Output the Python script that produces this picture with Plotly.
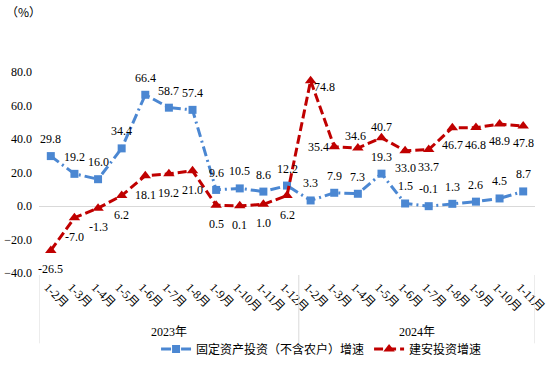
import plotly.graph_objects as go

months_2023 = ["1-2月", "1-3月", "1-4月", "1-5月", "1-6月", "1-7月", "1-8月", "1-9月", "1-10月", "1-11月", "1-12月"]
months_2024 = ["1-2月", "1-3月", "1-4月", "1-5月", "1-6月", "1-7月", "1-8月", "1-9月", "1-10月", "1-11月"]
years = ["2023年", "2024年"]

fixed_invest = [29.8, 19.2, 16.0, 34.4, 66.4, 58.7, 57.4, 9.6, 10.5, 8.6, 12.2,
                3.3, 7.9, 7.3, 19.3, 1.5, -0.1, 1.3, 2.6, 4.5, 8.7]
construct_invest = [-26.5, -7.0, -1.3, 6.2, 18.1, 19.2, 21.0, 0.5, 0.1, 1.0, 6.2,
                    74.8, 35.4, 34.6, 40.7, 33.0, 33.7, 46.7, 46.8, 48.9, 47.8]

labels = months_2023 + months_2024
x = list(range(len(labels)))

serif = "Liberation Serif, Noto Sans CJK SC"
cjk = "Noto Sans CJK SC"
blue = "#4B87D2"
red = "#C00000"

# label offsets in pixels (xshift, yshift)
blue_off = [(0, 17)] * len(fixed_invest)
red_off = [(0, -19)] * len(construct_invest)
red_off[11] = (14, -6)
red_off[12] = (-16, 0)
red_off[13] = (-2, 12)
red_off[14] = (0, 11)
for i in range(15, 21):
    red_off[i] = (0, -17)

fig = go.Figure()
fig.add_trace(go.Scatter(
    x=x, y=fixed_invest, name="固定资产投资（不含农户）增速",
    mode="lines+markers",
    line=dict(color=blue, width=3, dash="10px,4px,2px,4px"),
    marker=dict(symbol="square", size=8, color=blue),
    cliponaxis=False, hoverinfo="skip",
))
fig.add_trace(go.Scatter(
    x=x, y=construct_invest, name="建安投资增速",
    mode="lines+markers",
    line=dict(color=red, width=3, dash="9px,4px"),
    marker=dict(symbol="triangle-up", size=10, color=red),
    cliponaxis=False, hoverinfo="skip",
))

n23 = len(months_2023)
n = len(labels)
shapes = []
for xv in [-0.5, n23 - 0.5, n - 0.5]:
    shapes.append(dict(type="line", xref="x", yref="paper", x0=xv, x1=xv,
                       y0=-0.01, y1=-0.35, line=dict(color="#D9D9D9", width=1)))

annotations = [
    dict(text="（%）", xref="paper", yref="paper", x=-0.07, y=1.30, xanchor="left",
         yanchor="middle", showarrow=False, font=dict(family=cjk, size=12, color="#000000")),
    dict(text=years[0], xref="x", yref="paper", x=(n23 - 1) / 2, y=-0.292, showarrow=False,
         yanchor="middle", font=dict(family=serif, size=12, color="#000000")),
    dict(text=years[1], xref="x", yref="paper", x=(n23 + n - 1) / 2, y=-0.292, showarrow=False,
         yanchor="middle", font=dict(family=serif, size=12, color="#000000")),
]
for series, offs in ((fixed_invest, blue_off), (construct_invest, red_off)):
    for xi, v, (dx, dy) in zip(x, series, offs):
        annotations.append(dict(
            text=f"{v:.1f}", x=xi, y=v, xref="x", yref="y", showarrow=False,
            xanchor="center", yanchor="middle", xshift=dx, yshift=dy,
            font=dict(family=serif, size=12, color="#000000"),
        ))

fig.update_layout(
    width=554, height=376,
    margin=dict(l=39, r=19, t=72, b=103, autoexpand=False),
    plot_bgcolor="white", paper_bgcolor="white",
    showlegend=True,
    legend=dict(orientation="h", x=0.236, xanchor="left", y=-0.378, yanchor="middle",
                font=dict(family=cjk, size=12, color="#000000"), itemwidth=30,
                bgcolor="rgba(0,0,0,0)"),
    shapes=shapes, annotations=annotations,
)
fig.update_xaxes(range=[-0.5, n - 0.5], tickmode="array", tickvals=x, ticktext=labels,
                 tickangle=45, showgrid=False, zeroline=False, showline=False, ticks="",
                 tickfont=dict(family=serif, size=12, color="#000000"), ticklabelstandoff=4,
                 ticklabelshift=-3)
fig.update_yaxes(range=[-40, 80], dtick=20, tick0=0, tickformat=".1f", showgrid=False,
                 zeroline=True, zerolinecolor="#D9D9D9", zerolinewidth=1, showline=False,
                 ticks="", tickfont=dict(family=serif, size=12, color="#000000"),
                 ticklabelstandoff=6)

fig.write_html("out.html", config={"displayModeBar": False},
               post_script="document.body.style.margin='0px';")
